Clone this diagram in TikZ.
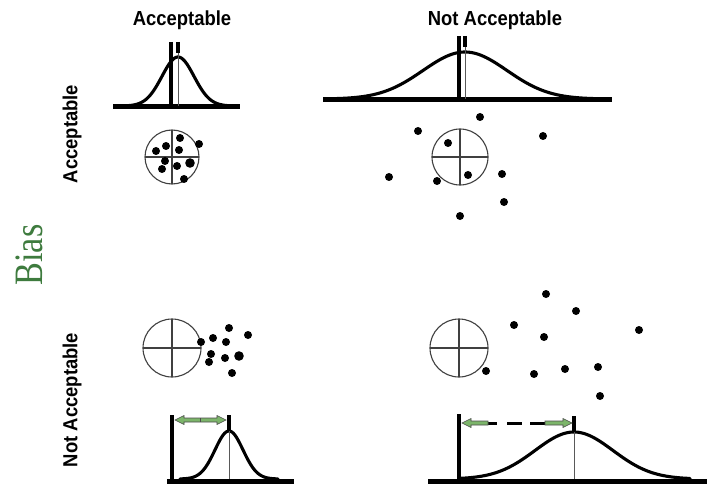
\documentclass[tikz,border=0pt]{standalone}
\usepackage{graphicx}
\usepackage{fontspec}
\setmainfont{Liberation Sans}
\newfontfamily\biasfont{Liberation Serif}
\definecolor{biasgreen}{HTML}{3E7B3E}
\definecolor{arrgreen}{HTML}{7CB56A}
\newcommand\mytarget[3]{%
  \draw[target] (#1,#2) circle[radius=#3];
  \draw[target] (#1-#3,#2) -- (#1+#3,#2) (#1,#2-#3) -- (#1,#2+#3);}
\begin{document}
\begin{tikzpicture}[x=1pt,y=-1pt,
  declare function={g(\t)=exp(-(\t)*(\t)/2);},
  lbl/.style={font=\fontsize{19}{22}\selectfont\bfseries, inner sep=0pt},
  axisline/.style={line width=5pt},
  curve/.style={line width=3.1pt, line join=round, line cap=round},
  bar/.style={line width=3.3pt},
  meanline/.style={line width=0.7pt, draw=black!65},
  target/.style={line width=1.1pt, draw=black!75},
  dot/.style={fill=black},
  garrow/.style={fill=arrgreen, draw=black!70, line width=0.6pt},
  dashseg/.style={line width=3pt}]
\useasboundingbox (0,0) rectangle (707,484);
\fill[white] (0,0) rectangle (707,484);

% labels
\node[lbl] (tA) at (182,20) {\scalebox{0.97}[1.07]{Acceptable}};
\node[lbl] (tNA) at (495,20) {\scalebox{0.97}[1.07]{Not Acceptable}};
\node[lbl, rotate=90] (lA) at (72,134) {\scalebox{0.97}[1.07]{Acceptable}};
\node[lbl, rotate=90] (lNA) at (72,400) {\scalebox{0.97}[1.07]{Not Acceptable}};
\node[inner sep=0pt, rotate=90, text=biasgreen, font=\biasfont\fontsize{36}{40}\selectfont] (bias) at (29,255) {\scalebox{0.95}[1.12]{Bias}};

% ---- top-left
\draw[curve] plot[domain=122:234, samples=120, smooth] (\x,{106-49*g((\x-178)/16)});
\draw[axisline] (113,107) -- (240,107);
\draw[bar] (171,42) -- (171,107);
\draw[bar] (178,42) -- (178,53);
\draw[meanline] (178,53) -- (178,106);
\mytarget{172}{157}{27}
\foreach \p in {(180,138),(199,144),(166,146),(156,151),(179,150),(165,161),(177,166),(162,169),(184,179)}
  \fill[dot] \p circle[radius=4];
\fill[dot] (190,163) circle[radius=4.8];

% ---- top-right
\draw[curve] plot[domain=325:605, samples=150, smooth] (\x,{99-47*g((\x-465)/42)});
\draw[axisline] (323,100) -- (612,100);
\draw[bar] (459,36) -- (459,100);
\draw[bar] (465,36) -- (465,47);
\draw[meanline] (465,47) -- (465,99);
\mytarget{460}{157}{28}
\foreach \p in {(480,117),(418,131),(543,136),(448,143),(389,177),(437,181),(468,175),(502,174),(504,202),(460,216)}
  \fill[dot] \p circle[radius=4];

% ---- bottom-left
\mytarget{172}{348}{29}
\foreach \p in {(229,328),(248,335),(213,338),(201,342),(226,342),(211,354),(225,358),(209,362),(232,373)}
  \fill[dot] \p circle[radius=4];
\fill[dot] (239,356) circle[radius=4.8];
\draw[curve] plot[domain=180:278, samples=120, smooth] (\x,{479-48*g((\x-229)/14)});
\draw[axisline] (167,481) -- (294,481);
\draw[bar] (172,415) -- (172,481);
\draw[bar] (229,415) -- (229,431);
\draw[meanline] (229,431) -- (229,479);
\filldraw[garrow] (175,420) -- (184,415.5) -- (184,418) -- (217,418) -- (217,415.5) -- (226,420)
  -- (217,424.5) -- (217,422) -- (184,422) -- (184,424.5) -- cycle;
\draw[line width=0.6pt, draw=black!70] (200,418) -- (200,422);

% ---- bottom-right
\mytarget{459}{348}{29}
\foreach \p in {(546,294),(576,311),(514,325),(639,330),(544,337),(486,371),(534,374),(565,369),(598,367),(600,396)}
  \fill[dot] \p circle[radius=4];
\draw[curve] plot[domain=461:690, samples=150, smooth] (\x,{479-47*g((\x-574)/39)});
\draw[axisline] (428,481) -- (707,481);
\draw[bar] (459,414) -- (459,481);
\draw[bar] (574,416) -- (574,432);
\draw[meanline] (574,432) -- (574,479);
\draw[dashseg] (487,423) -- (497,423) (507,423) -- (522,423) (530,423) -- (545,423);
\filldraw[garrow] (462,423) -- (471,418.5) -- (471,421) -- (488,421) -- (488,425) -- (471,425) -- (471,427.5) -- cycle;
\filldraw[garrow] (572,423) -- (563,418.5) -- (563,421) -- (545,421) -- (545,425) -- (563,425) -- (563,427.5) -- cycle;
\end{tikzpicture}
\end{document}
